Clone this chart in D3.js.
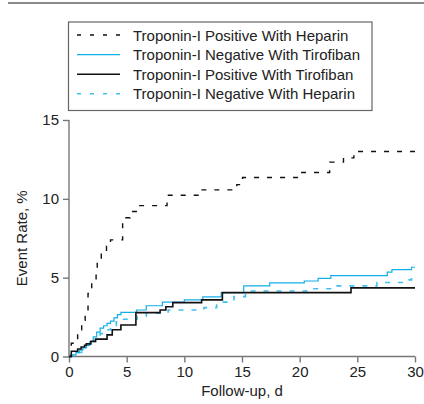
<!DOCTYPE html>
<html><head><meta charset="utf-8">
<script src="https://cdn.jsdelivr.net/npm/d3@7"></script>
<style>
html,body{margin:0;padding:0;background:#fff;}
svg{display:block;font-family:"Liberation Sans",Arial,Helvetica,sans-serif;}
</style></head>
<body>
<div id="chart"></div>
<script>
// ---- data (days, cumulative event rate %) ----
const seriesNames = [
  "Troponin-I Positive With Heparin",
  "Troponin-I Negative With Tirofiban",
  "Troponin-I Positive With Tirofiban",
  "Troponin-I Negative With Heparin"
];
const posHepDays  = [0, 0.2, 0.75, 1.1, 1.4, 1.65, 1.97, 2.35, 2.45, 2.8, 3.25, 3.6, 4.65, 5.3, 5.95, 8.5, 11.4, 14.55, 15.05, 19.9, 22.6, 23.8, 24.7, 30];
const posHepRates = [0, 0.84, 1.7, 2.3, 2.9, 4.0, 4.7, 5.3, 5.95, 6.5, 7.0, 7.4, 8.8, 9.2, 9.57, 10.23, 10.57, 10.9, 11.35, 11.67, 12.33, 12.6, 13.0, 13.0];

const negTiroDays  = [0, 0.3, 0.6, 0.9, 1.2, 1.5, 1.8, 2.1, 2.4, 2.7, 3.0, 3.3, 3.6, 3.9, 4.2, 4.5, 5.87, 6.7, 8.1, 10.0, 11.6, 13.2, 15.15, 17.4, 20.4, 21.6, 22.7, 27.6, 28.0, 29.7, 30];
const negTiroRates = [0, 0.1, 0.25, 0.4, 0.55, 0.7, 0.95, 1.25, 1.55, 1.8, 1.95, 2.1, 2.25, 2.45, 2.65, 2.8, 2.95, 3.22, 3.45, 3.59, 3.78, 4.05, 4.48, 4.67, 4.79, 4.96, 5.13, 5.35, 5.51, 5.66, 5.66];

const posTiroDays  = [0, 0.2, 0.75, 1.05, 1.35, 1.5, 1.9, 2.3, 3.3, 3.75, 4.5, 5.8, 7.9, 8.4, 9.0, 11.5, 13.3, 24.45, 30];
const posTiroRates = [0, 0.33, 0.48, 0.6, 0.71, 0.8, 0.96, 1.1, 1.37, 1.7, 2.0, 2.78, 2.95, 3.16, 3.42, 3.59, 4.05, 4.35, 4.35];

const negHepDays  = [0, 0.3, 0.7, 1.1, 1.5, 1.9, 2.3, 2.7, 3.1, 3.6, 4.1, 4.6, 5.9, 6.7, 8.6, 11.7, 12.8, 14.3, 15.3, 20.6, 22.9, 26.7, 29.1, 29.7, 30];
const negHepRates = [0, 0.1, 0.25, 0.45, 0.7, 0.95, 1.2, 1.45, 1.7, 1.95, 2.2, 2.36, 2.55, 2.75, 2.95, 3.1, 3.45, 3.8, 4.15, 4.3, 4.48, 4.69, 4.86, 5.0, 5.0];

const xTicks = [0, 5, 10, 15, 20, 25, 30];
const yTicks = [0, 5, 10, 15];
const xTitle = "Follow-up, d";
const yTitle = "Event Rate, %";

// ---- styles ----
const styles = [
  {color: "#111", dash: "5,8", width: 1.4},
  {color: "#12aee8", dash: null, width: 1.2},
  {color: "#111", dash: null, width: 1.6},
  {color: "#3fbff0", dash: "5,8", width: 1.6}
];

const W = 424, H = 404;
const svg = d3.select("#chart").append("svg").attr("width", W).attr("height", H);

// top rule
svg.append("line").attr("x1", 8).attr("x2", W).attr("y1", 3).attr("y2", 3)
  .attr("stroke", "#8a8a8a").attr("stroke-width", 2);

const x = d3.scaleLinear().domain([0, 30]).range([69, 415]);
const y = d3.scaleLinear().domain([0, 15]).range([356.5, 120]);

// axes
const gx = svg.append("g").attr("transform", `translate(0,${y(0)})`)
  .call(d3.axisBottom(x).tickValues(xTicks).tickSize(6).tickPadding(4).tickFormat(d3.format("d")));
const gy = svg.append("g").attr("transform", `translate(${x(0)},0)`)
  .call(d3.axisLeft(y).tickValues(yTicks).tickSize(6).tickPadding(4).tickFormat(d3.format("d")));
[gx, gy].forEach(g => {
  g.select(".domain").attr("stroke", "#777").attr("stroke-width", 1.4);
  g.selectAll(".tick line").attr("stroke", "#777").attr("stroke-width", 1.4);
  g.selectAll(".tick text").attr("fill", "#222").style("font-size", "15px")
    .style("font-family", '"Liberation Sans",Arial,sans-serif');
});
gx.select(".domain").attr("d", `M${x(0)},0H${x(30)}`);
gy.select(".domain").attr("d", `M0,${y(15)}V${y(0)}`);

svg.append("text").attr("x", (x(0) + x(30)) / 2).attr("y", 396)
  .attr("text-anchor", "middle").attr("fill", "#222").style("font-size", "15px").text(xTitle);
svg.append("text").attr("transform", `translate(27,${(y(0) + y(15)) / 2}) rotate(-90)`)
  .attr("text-anchor", "middle").attr("fill", "#222").style("font-size", "15px").text(yTitle);

// curves
const allSeries = [
  d3.zip(posHepDays, posHepRates),
  d3.zip(negTiroDays, negTiroRates),
  d3.zip(posTiroDays, posTiroRates),
  d3.zip(negHepDays, negHepRates)
];
const line = d3.line().x(d => x(d[0])).y(d => y(d[1])).curve(d3.curveStepAfter);
const drawOrder = [3, 1, 2, 0];
drawOrder.forEach(i => {
  svg.append("path").datum(allSeries[i]).attr("d", line)
    .attr("fill", "none").attr("stroke", styles[i].color)
    .attr("stroke-width", styles[i].width)
    .attr("stroke-dasharray", styles[i].dash);
});

// legend
const lg = svg.append("g");
lg.append("rect").attr("x", 68.5).attr("y", 22).attr("width", 303.5).attr("height", 88.5)
  .attr("fill", "#fff").attr("stroke", "#666").attr("stroke-width", 1.2);
seriesNames.forEach((name, i) => {
  const cy = 35 + i * 19.6;
  lg.append("line").attr("x1", 77).attr("x2", 120).attr("y1", cy).attr("y2", cy)
    .attr("stroke", styles[i].color).attr("stroke-width", styles[i].width)
    .attr("stroke-dasharray", styles[i].dash ? "4,9" : null);
  lg.append("text").attr("x", 133).attr("y", cy + 5.5).attr("fill", "#222")
    .style("font-size", "15px").text(name);
});
</script>
</body></html>
